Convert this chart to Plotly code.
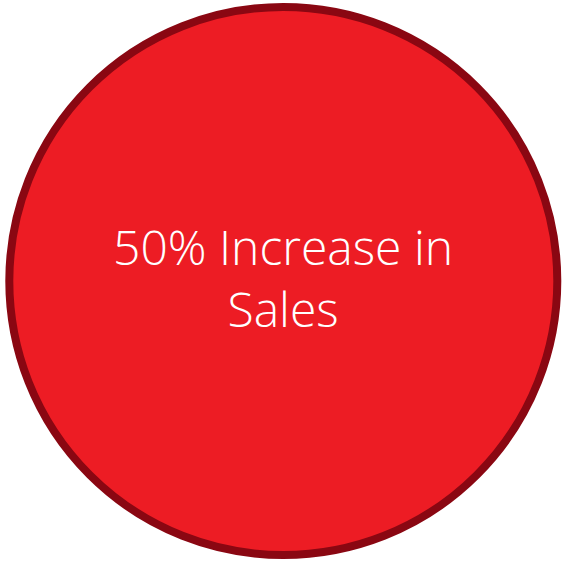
import plotly.graph_objects as go

labels = ["50% Increase in", "Sales"]
fill_color = "#ED1C24"
border_color = "#8A0712"

W, H = 562, 561
cx, cy, r = 283.3, 281, 274

fig = go.Figure()
fig.add_shape(type="circle", xref="x", yref="y",
              x0=cx - r, x1=cx + r, y0=cy - r, y1=cy + r,
              fillcolor=fill_color, line=dict(color=border_color, width=8),
              layer="below")
fig.add_annotation(x=cx, y=277, xref="x", yref="y", text="<br>".join(labels),
                   showarrow=False, xanchor="center", yanchor="middle",
                   font=dict(family="Open Sans", size=48, color="white", weight=300))
fig.update_xaxes(range=[0, W], visible=False, fixedrange=True)
fig.update_yaxes(range=[H, 0], visible=False, fixedrange=True)
fig.update_layout(width=W, height=H, margin=dict(l=0, r=0, t=0, b=0),
                  paper_bgcolor="white", plot_bgcolor="white", showlegend=False)
fig.write_html("out.html", config={"displayModeBar": False},
               post_script="document.body.style.margin='0';document.body.style.overflow='hidden';")
